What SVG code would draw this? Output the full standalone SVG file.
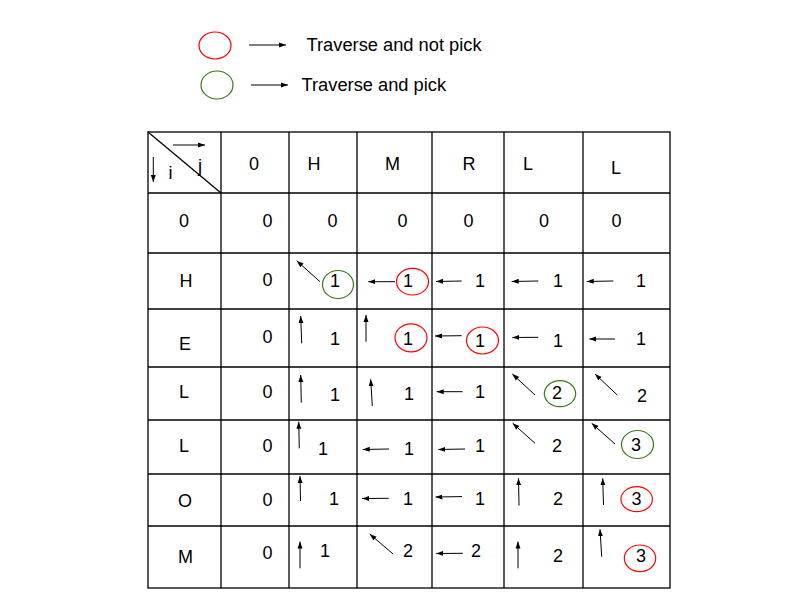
<svg xmlns="http://www.w3.org/2000/svg" width="800" height="600" viewBox="0 0 800 600">
<defs>
<marker id="ah" markerUnits="userSpaceOnUse" markerWidth="8" markerHeight="6" refX="7" refY="3" orient="auto">
<path d="M0,0.5 L7,3 L0,5.5 Z" fill="#000"/>
</marker>
<style>
.t{font-family:"Liberation Sans",Arial,sans-serif;font-size:18px;fill:#000;text-anchor:middle}
.lg{font-family:"Liberation Sans",Arial,sans-serif;font-size:18.3px;fill:#000}
.g{stroke:#000;stroke-width:1.3;fill:none}
.a{stroke:#000;stroke-width:1;fill:none;marker-end:url(#ah)}
.red{stroke:#ff0000;stroke-width:1.2;fill:none}
.grn{stroke:#38761d;stroke-width:1.2;fill:none}
</style>
</defs>
<rect width="800" height="600" fill="#fff"/>

<g id="legend">
<ellipse class="red" cx="215" cy="45.5" rx="16" ry="13.5"/>
<line class="a" x1="249" y1="45" x2="286" y2="45"/>
<text class="lg" x="306.5" y="51">Traverse and not pick</text>
<ellipse class="grn" cx="217" cy="85" rx="16" ry="14"/>
<line class="a" x1="251" y1="85" x2="288" y2="85"/>
<text class="lg" x="301.5" y="91">Traverse and pick</text>
</g>

<g id="grid">
<rect class="g" x="148" y="132" width="522" height="456"/>
<line class="g" x1="221" y1="132" x2="221" y2="588"/>
<line class="g" x1="289" y1="132" x2="289" y2="588"/>
<line class="g" x1="357" y1="132" x2="357" y2="588"/>
<line class="g" x1="432" y1="132" x2="432" y2="588"/>
<line class="g" x1="504" y1="132" x2="504" y2="588"/>
<line class="g" x1="583" y1="132" x2="583" y2="588"/>
<line class="g" x1="148" y1="193" x2="670" y2="193"/>
<line class="g" x1="148" y1="253" x2="670" y2="253"/>
<line class="g" x1="148" y1="309" x2="670" y2="309"/>
<line class="g" x1="148" y1="367" x2="670" y2="367"/>
<line class="g" x1="148" y1="420" x2="670" y2="420"/>
<line class="g" x1="148" y1="474" x2="670" y2="474"/>
<line class="g" x1="148" y1="526" x2="670" y2="526"/>
<line class="g" x1="148" y1="132" x2="221" y2="193" stroke-width="1"/>
</g>

<g id="corner">
<line class="a" x1="173" y1="145" x2="205" y2="145"/>
<line class="a" x1="153.3" y1="157" x2="153.3" y2="182"/>
<text class="lg" x="200" y="171.5" text-anchor="middle">j</text>
<text class="lg" x="170.5" y="178.5" text-anchor="middle">i</text>
</g>

<g id="header">
<text class="t" x="254" y="170">0</text>
<text class="t" x="314" y="170">H</text>
<text class="t" x="392.5" y="170">M</text>
<text class="t" x="469" y="170">R</text>
<text class="t" x="528" y="170">L</text>
<text class="t" x="616" y="174">L</text>
</g>

<g id="rowlabels">
<text class="t" x="184" y="227">0</text>
<text class="t" x="186" y="287">H</text>
<text class="t" x="185" y="350">E</text>
<text class="t" x="184" y="398">L</text>
<text class="t" x="184" y="452">L</text>
<text class="t" x="185" y="507">O</text>
<text class="t" x="185.5" y="563">M</text>
</g>

<g id="row0">
<text class="t" x="267.5" y="227">0</text>
<text class="t" x="332.5" y="227">0</text>
<text class="t" x="402.5" y="227">0</text>
<text class="t" x="468.5" y="227">0</text>
<text class="t" x="544" y="227">0</text>
<text class="t" x="616.5" y="227">0</text>
</g>

<g id="col0">
<text class="t" x="267.5" y="286">0</text>
<text class="t" x="267.5" y="343">0</text>
<text class="t" x="267.5" y="398">0</text>
<text class="t" x="267.5" y="452">0</text>
<text class="t" x="267.5" y="506">0</text>
<text class="t" x="267.5" y="559">0</text>
</g>

<g id="cells">
<text class="t" x="335" y="287">1</text>
<text class="t" x="408" y="287">1</text>
<text class="t" x="480" y="287">1</text>
<text class="t" x="558" y="287">1</text>
<text class="t" x="641" y="287">1</text>

<text class="t" x="335" y="345">1</text>
<text class="t" x="408" y="345">1</text>
<text class="t" x="480" y="347">1</text>
<text class="t" x="558" y="347">1</text>
<text class="t" x="641" y="345">1</text>

<text class="t" x="335" y="401">1</text>
<text class="t" x="409" y="400">1</text>
<text class="t" x="480" y="398">1</text>
<text class="t" x="557" y="399">2</text>
<text class="t" x="642" y="402">2</text>

<text class="t" x="323" y="455">1</text>
<text class="t" x="409" y="455">1</text>
<text class="t" x="480" y="452">1</text>
<text class="t" x="557" y="452">2</text>
<text class="t" x="636" y="451">3</text>

<text class="t" x="334" y="505">1</text>
<text class="t" x="408" y="505">1</text>
<text class="t" x="480" y="505">1</text>
<text class="t" x="558" y="505">2</text>
<text class="t" x="636.5" y="505">3</text>

<text class="t" x="325" y="557">1</text>
<text class="t" x="408" y="557">2</text>
<text class="t" x="476" y="557">2</text>
<text class="t" x="558" y="562">2</text>
<text class="t" x="641" y="562">3</text>
</g>

<g id="circles">
<ellipse class="grn" cx="338" cy="284.5" rx="15.5" ry="14"/>
<ellipse class="grn" cx="560" cy="393.7" rx="15.7" ry="13"/>
<ellipse class="grn" cx="637.5" cy="444.5" rx="16" ry="14"/>
<ellipse class="red" cx="412.5" cy="281.7" rx="16" ry="13.3"/>
<ellipse class="red" cx="411" cy="337.8" rx="16" ry="14"/>
<ellipse class="red" cx="482.5" cy="340.5" rx="16" ry="13.5"/>
<ellipse class="red" cx="636.7" cy="499.2" rx="15.7" ry="12.5"/>
<ellipse class="red" cx="640" cy="558.3" rx="15.7" ry="13.3"/>
</g>

<g id="connectors">
<line class="a" x1="320" y1="281.7" x2="296.7" y2="260.7"/>
<line class="a" x1="395" y1="281.7" x2="368.3" y2="281.7"/>
<line class="a" x1="461.7" y1="281" x2="436" y2="281.5"/>
<line class="a" x1="538.3" y1="281" x2="511.7" y2="281.5"/>
<line class="a" x1="613.3" y1="281" x2="586.7" y2="281.5"/>

<line class="a" x1="301.7" y1="343.3" x2="300.7" y2="316"/>
<line class="a" x1="366" y1="341.7" x2="366" y2="315"/>
<line class="a" x1="461.7" y1="335.7" x2="435" y2="336"/>
<line class="a" x1="538.3" y1="337.3" x2="512.3" y2="337.5"/>
<line class="a" x1="615" y1="339" x2="589.3" y2="339"/>

<line class="a" x1="301.3" y1="402.7" x2="300.7" y2="375"/>
<line class="a" x1="372.3" y1="406" x2="370.7" y2="379.3"/>
<line class="a" x1="462.7" y1="391.7" x2="436.7" y2="391.7"/>
<line class="a" x1="535" y1="395" x2="512.3" y2="374"/>
<line class="a" x1="617.3" y1="395" x2="595" y2="374"/>

<line class="a" x1="299.3" y1="448.3" x2="298.7" y2="421.7"/>
<line class="a" x1="389" y1="449" x2="362.7" y2="449.5"/>
<line class="a" x1="465" y1="449" x2="438.3" y2="449.5"/>
<line class="a" x1="535" y1="443.3" x2="512.7" y2="423.3"/>
<line class="a" x1="615" y1="444" x2="591.7" y2="423.3"/>

<line class="a" x1="300.5" y1="501" x2="300" y2="476"/>
<line class="a" x1="388.7" y1="498.3" x2="362.1" y2="498.5"/>
<line class="a" x1="462" y1="496.6" x2="435.5" y2="497"/>
<line class="a" x1="519" y1="505.6" x2="518.5" y2="478.3"/>
<line class="a" x1="603.5" y1="505" x2="602.7" y2="478.3"/>

<line class="a" x1="300" y1="568.3" x2="300" y2="541.6"/>
<line class="a" x1="393.1" y1="554" x2="369.7" y2="534"/>
<line class="a" x1="462.8" y1="553.3" x2="436.2" y2="553.5"/>
<line class="a" x1="518" y1="568.3" x2="518" y2="541.6"/>
<line class="a" x1="601.7" y1="556.7" x2="600" y2="529.3"/>
</g>
</svg>
